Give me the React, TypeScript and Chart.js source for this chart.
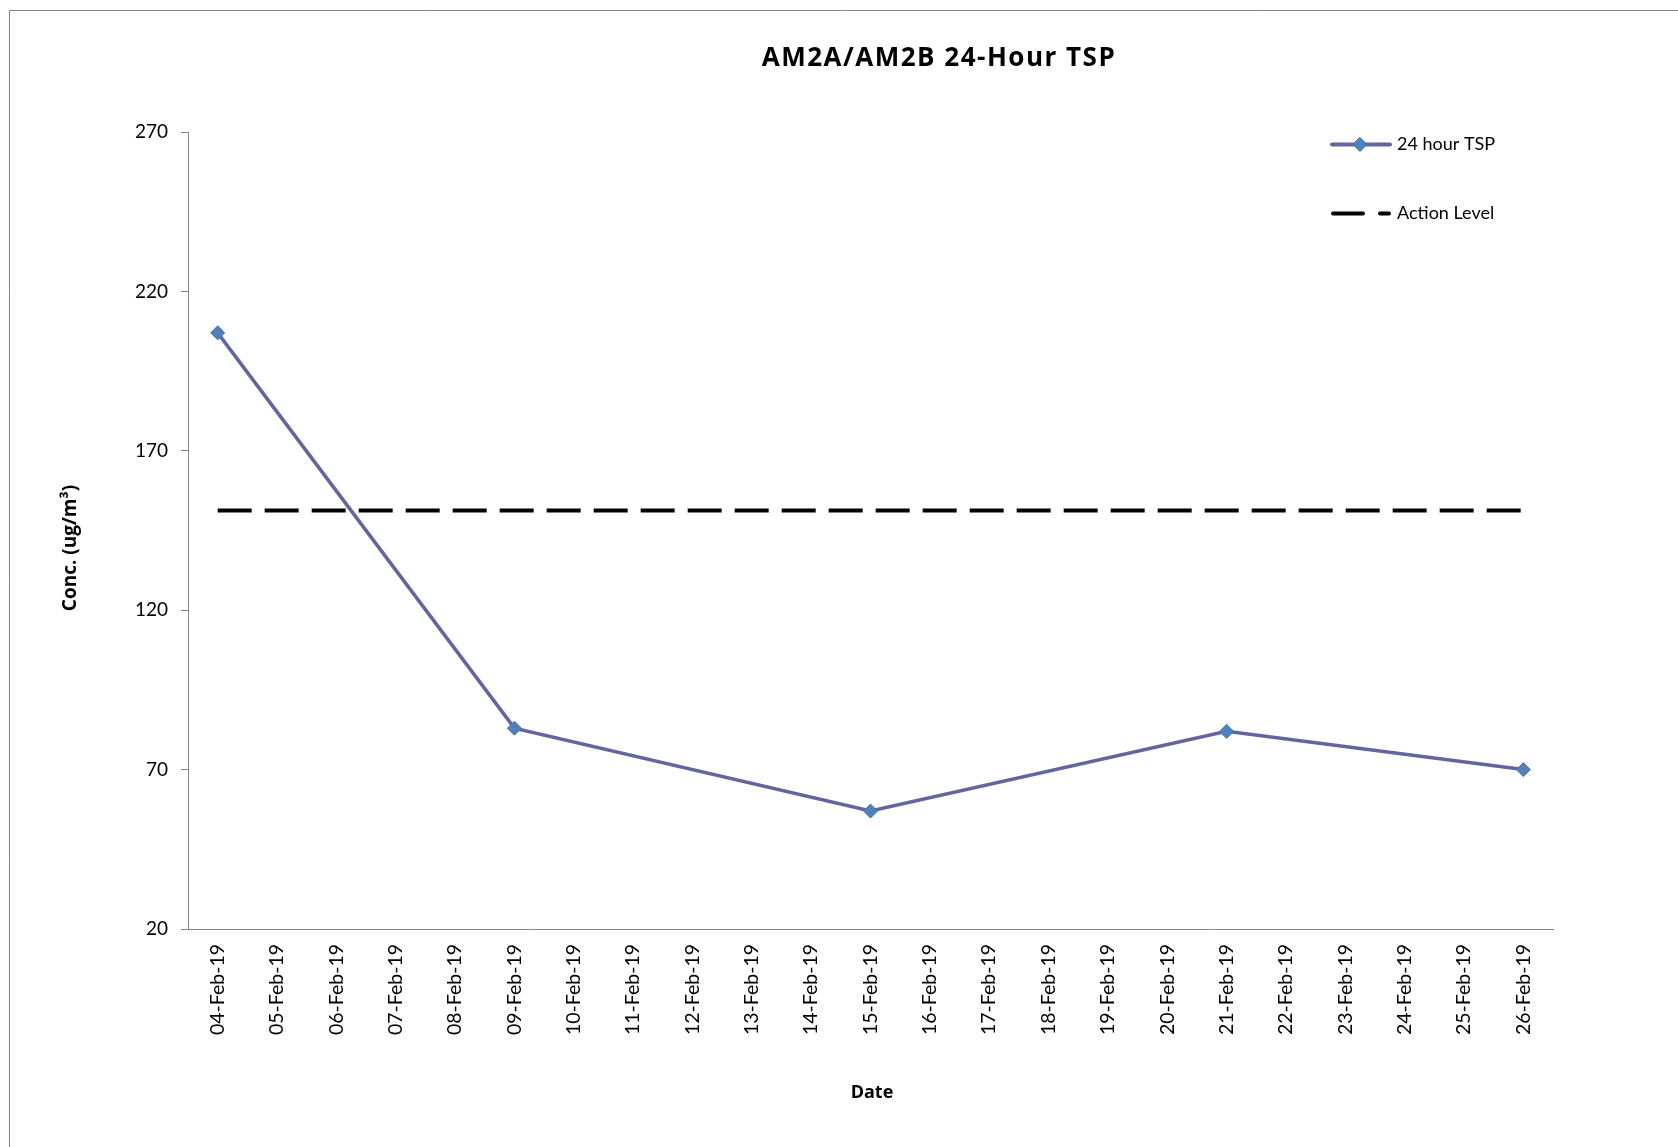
import React, { useEffect, useRef } from "react";
import { Chart, registerables } from "chart.js";

Chart.register(...registerables);

const categories = [
  "04-Feb-19", "05-Feb-19", "06-Feb-19", "07-Feb-19", "08-Feb-19", "09-Feb-19",
  "10-Feb-19", "11-Feb-19", "12-Feb-19", "13-Feb-19", "14-Feb-19", "15-Feb-19",
  "16-Feb-19", "17-Feb-19", "18-Feb-19", "19-Feb-19", "20-Feb-19", "21-Feb-19",
  "22-Feb-19", "23-Feb-19", "24-Feb-19", "25-Feb-19", "26-Feb-19",
];

const tspValues = [
  207, null, null, null, null, 83,
  null, null, null, null, null, 57,
  null, null, null, null, null, 82,
  null, null, null, null, 70,
];

const actionLevelValues = [
  151.3, 151.3, 151.3, 151.3, 151.3, 151.3,
  151.3, 151.3, 151.3, 151.3, 151.3, 151.3,
  151.3, 151.3, 151.3, 151.3, 151.3, 151.3,
  151.3, 151.3, 151.3, 151.3, 151.3,
];

const yMin = 20;
const yMax = 270;
const yStep = 50;

const titleText = "AM2A/AM2B 24-Hour TSP";
const yTitleText = "Conc. (ug/m\u00B3)";
const xTitleText = "Date";
const seriesNames = ["24 hour TSP", "Action Level"];

const FONT = "Lato, 'Open Sans', sans-serif";
const BOLD_FONT = "'Open Sans', Lato, sans-serif";
const LINE_COLOR = "#6264A7";
const MARKER_FILL = "#4F81BD";
const MARKER_BORDER = "#4472B0";
const AXIS_COLOR = "#868686";

const decorPlugin = {
  id: "decor",
  beforeDraw(chart: any) {
    const ctx = chart.ctx;
    ctx.save();
    ctx.fillStyle = "#ffffff";
    ctx.fillRect(0, 0, chart.width, chart.height);
    ctx.strokeStyle = AXIS_COLOR;
    ctx.lineWidth = 1;
    ctx.beginPath();
    ctx.moveTo(9.5, chart.height);
    ctx.lineTo(9.5, 10.5);
    ctx.lineTo(chart.width, 10.5);
    ctx.stroke();
    ctx.restore();
  },
  afterDraw(chart: any) {
    const ctx = chart.ctx;
    ctx.save();
    ctx.fillStyle = "#000000";
    ctx.textAlign = "center";
    ctx.textBaseline = "middle";
    // title
    ctx.font = `bold 26px ${BOLD_FONT}`;
    (ctx as any).letterSpacing = "1.5px";
    ctx.fillText(titleText, 939, 59);
    (ctx as any).letterSpacing = "0px";
    // x title
    ctx.font = `bold 18px ${BOLD_FONT}`;
    ctx.fillText(xTitleText, 872, 1093);
    // y title
    ctx.save();
    ctx.translate(71, 548);
    ctx.rotate(-Math.PI / 2);
    ctx.font = `bold 19px ${BOLD_FONT}`;
    ctx.fillText(yTitleText, 0, 0);
    ctx.restore();

    // legend
    ctx.font = `18px ${FONT}`;
    ctx.textAlign = "left";
    // series 1
    ctx.strokeStyle = LINE_COLOR;
    ctx.lineWidth = 4;
    ctx.lineCap = "round";
    ctx.beginPath();
    ctx.moveTo(1332, 144.5);
    ctx.lineTo(1390, 144.5);
    ctx.stroke();
    ctx.fillStyle = MARKER_FILL;
    ctx.strokeStyle = MARKER_BORDER;
    ctx.lineWidth = 1;
    ctx.beginPath();
    ctx.moveTo(1360, 137.5);
    ctx.lineTo(1367, 144.5);
    ctx.lineTo(1360, 151.5);
    ctx.lineTo(1353, 144.5);
    ctx.closePath();
    ctx.fill();
    ctx.stroke();
    ctx.fillStyle = "#000000";
    ctx.fillText(seriesNames[0], 1397, 144.5);
    // series 2
    ctx.strokeStyle = "#000000";
    ctx.lineWidth = 4;
    ctx.beginPath();
    ctx.moveTo(1333, 213.5);
    ctx.lineTo(1363, 213.5);
    ctx.moveTo(1380, 213.5);
    ctx.lineTo(1389, 213.5);
    ctx.stroke();
    ctx.fillText(seriesNames[1], 1397, 213.5);
    ctx.restore();
  },
};

export default function App() {
  const canvasRef = useRef<HTMLCanvasElement | null>(null);

  useEffect(() => {
    if (!canvasRef.current) return;
    const chart = new Chart(canvasRef.current, {
      type: "line",
      data: {
        labels: categories,
        datasets: [
          {
            label: seriesNames[1],
            data: actionLevelValues,
            borderColor: "#000000",
            borderWidth: 4,
            borderDash: [34, 13],
            pointRadius: 0,
            pointHoverRadius: 0,
            fill: false,
            order: 2,
          },
          {
            label: seriesNames[0],
            data: tspValues,
            spanGaps: true,
            borderColor: LINE_COLOR,
            borderWidth: 3.5,
            pointStyle: "rectRot",
            pointRadius: 7,
            pointBackgroundColor: MARKER_FILL,
            pointBorderColor: MARKER_BORDER,
            pointBorderWidth: 1,
            fill: false,
            tension: 0,
            order: 1,
          },
        ],
      },
      options: {
        animation: false,
        responsive: false,
        maintainAspectRatio: false,
        events: [],
        layout: { padding: { top: 132, right: 125, left: 0, bottom: 0 } },
        plugins: {
          legend: { display: false },
          title: { display: false },
          tooltip: { enabled: false },
        },
        scales: {
          x: {
            type: "category",
            offset: true,
            grid: { display: false, drawTicks: false, offset: true },
            border: { display: true, color: AXIS_COLOR, width: 1 },
            ticks: {
              autoSkip: false,
              maxRotation: 90,
              minRotation: 90,
              padding: 15,
              color: "#000000",
              font: { family: FONT, size: 19.5 },
            },
            afterFit(scale: any) {
              scale.height = 218;
            },
          },
          y: {
            min: yMin,
            max: yMax,
            grid: {
              drawOnChartArea: false,
              drawTicks: true,
              tickLength: 7,
              color: AXIS_COLOR,
            },
            border: { display: true, color: AXIS_COLOR, width: 1 },
            ticks: {
              stepSize: yStep,
              padding: 13,
              color: "#000000",
              font: { family: FONT, size: 19 },
            },
            afterFit(scale: any) {
              scale.width = 188;
            },
          },
        },
      },
      plugins: [decorPlugin],
    });
    return () => chart.destroy();
  }, []);

  return (
    <div style={{ position: "absolute", left: 0, top: 0, width: 1678, height: 1147 }}>
      <canvas ref={canvasRef} width={1678} height={1147} style={{ width: 1678, height: 1147 }} />
    </div>
  );
}
